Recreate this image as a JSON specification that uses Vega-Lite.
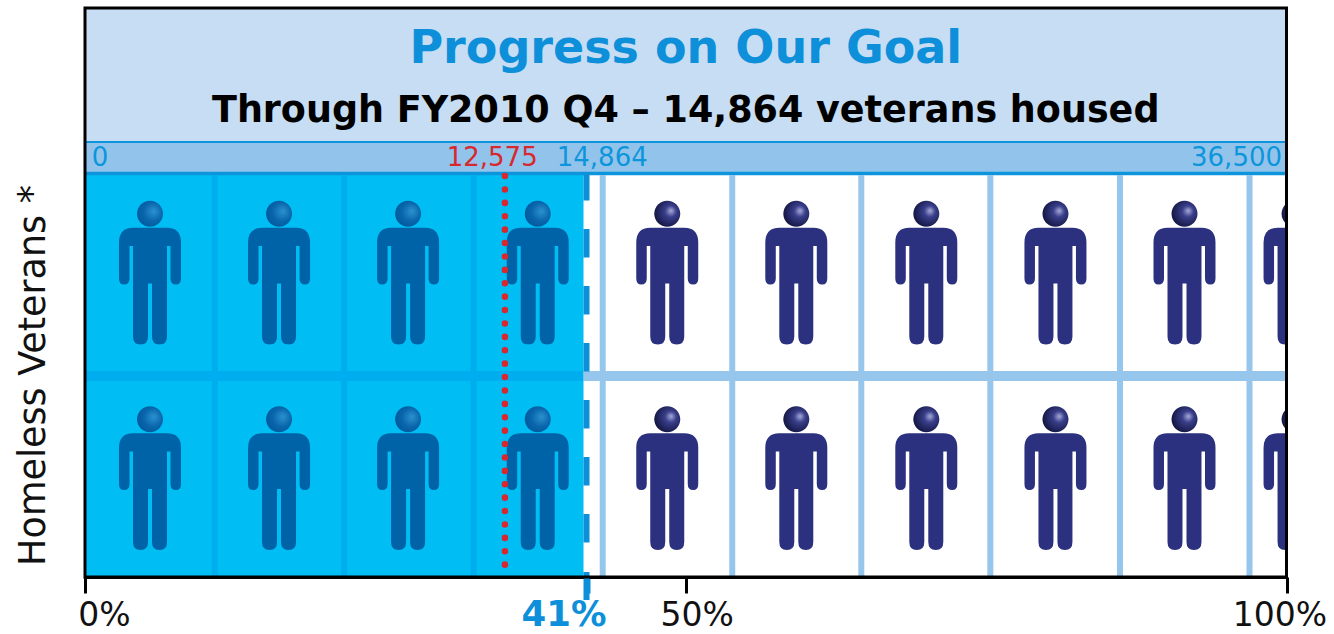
{
"$schema":"https://vega.github.io/schema/vega-lite/v6.json",
"width":1201.5,"height":569,
"autosize":{"type":"none"},
"padding":{"left":85,"top":8,"right":47.5,"bottom":57},
"background":"white",
"config":{"view":{"stroke":null},"font":"DejaVu Sans"},
"datasets":{
"bands":[
{"part":"header","x":0,"x2":100,"y":569,"y2":435},
{"part":"strip","x":0,"x2":100,"y":434,"y2":405},
{"part":"housed","x":0,"x2":41.49,"y":0,"y2":402}
],
"stripLines":[
{"part":"stripLine","x":0,"x2":100,"y":435,"w":"thin"},
{"part":"stripLine","x":0,"x2":100,"y":403.5,"w":"thick"}
],
"grid":[
{"part":"gridHoused","x":10.81},{"part":"gridHoused","x":21.57},{"part":"gridHoused","x":32.34},
{"part":"gridOpen","x":43.09},{"part":"gridOpen","x":53.87},{"part":"gridOpen","x":64.61},{"part":"gridOpen","x":75.35},{"part":"gridOpen","x":86.14},{"part":"gridOpen","x":96.92}
],
"rowLines":[
{"part":"gridHoused","x":0,"x2":41.49,"y":201},
{"part":"gridOpen","x":41.49,"x2":100,"y":201}
],
"people":[
{"part":"personHoused","x":5.41,"y":304.5},{"part":"personHoused","x":16.15,"y":304.5},{"part":"personHoused","x":26.89,"y":304.5},{"part":"personHoused","x":37.68,"y":304.5},
{"part":"personOpen","x":48.46,"y":304.5},{"part":"personOpen","x":59.2,"y":304.5},{"part":"personOpen","x":70.02,"y":304.5},{"part":"personOpen","x":80.77,"y":304.5},{"part":"personOpen","x":91.51,"y":304.5},{"part":"personOpen","x":100.67,"y":304.5},
{"part":"personHoused","x":5.41,"y":99},{"part":"personHoused","x":16.15,"y":99},{"part":"personHoused","x":26.89,"y":99},{"part":"personHoused","x":37.68,"y":99},
{"part":"personOpen","x":48.46,"y":99},{"part":"personOpen","x":59.2,"y":99},{"part":"personOpen","x":70.02,"y":99},{"part":"personOpen","x":80.77,"y":99},{"part":"personOpen","x":91.51,"y":99},{"part":"personOpen","x":100.67,"y":99}
],
"stripText":[
{"label":"0","part":"stripLine","x":1.25,"y":419.5},
{"label":"12,575","part":"target","x":33.89,"y":419.5},
{"label":"14,864","part":"stripLine","x":43.05,"y":419.5},
{"label":"36,500","part":"stripLine","x":95.84,"y":419.5}
]
},
"layer":[
{"data":{"name":"bands"},"mark":{"type":"rect"},
 "encoding":{
  "x":{"field":"x","type":"quantitative","scale":{"domain":[0,100],"nice":false,"zero":false},
   "axis":{"title":null,"values":[0,41.74,50,100],"grid":false,"domainColor":"black","domainWidth":3,
    "tickSize":16,"tickWidth":{"condition":{"test":"datum.value>41&&datum.value<42","value":6},"value":3},
    "tickColor":{"condition":{"test":"datum.value>41&&datum.value<42","value":"#0D8FD9"},"value":"black"},
    "labelExpr":"datum.value>41&&datum.value<42?'41%':datum.value+'%'",
    "labelFont":"DejaVu Sans","labelFontSize":{"condition":{"test":"datum.value>41&&datum.value<42","value":35.5},"value":33},
    "labelFontWeight":{"condition":{"test":"datum.value>41&&datum.value<42","value":"bold"},"value":"normal"},
    "labelColor":{"condition":{"test":"datum.value>41&&datum.value<42","value":"#0D8FD9"},"value":"#111111"},
    "labelOffset":{"condition":[{"test":"datum.value==0","value":19},{"test":"datum.value==50","value":11},{"test":"datum.value==100","value":-7}],"value":-23},
    "labelPadding":{"condition":{"test":"datum.value>41&&datum.value<42","value":4},"value":6.5},"labelOverlap":false,"labelBound":false,"labelFlush":false}},
  "x2":{"field":"x2"},
  "y":{"field":"y","type":"quantitative","scale":{"domain":[0,569],"nice":false,"zero":false},
   "axis":{"title":"Homeless Veterans *","titleFont":"DejaVu Sans","titleFontSize":36.5,"titleFontWeight":"normal","titleColor":"#111111","titleX":-41,"titleY":367,"titleAlign":"center","titleBaseline":"alphabetic","titleAngle":-90,"labels":false,"ticks":false,"domain":false,"grid":false}},
  "y2":{"field":"y2"},
  "color":{"field":"part","type":"nominal","legend":null,"scale":{
    "domain":["header","strip","housed","stripLine","gridHoused","gridOpen","personHoused","personOpen","target"],
    "range":["#C6DDF4","#92C4EB","#00BEF4","#0D95DC","#00AEEF","#96C6EC","#0063A8","#2B317F","#D8282F"]}}
 }},
{"data":{"name":"stripLines"},"transform":[{"filter":"datum.w=='thin'"}],"mark":{"type":"rule","strokeWidth":2},
 "encoding":{"x":{"field":"x","type":"quantitative"},"x2":{"field":"x2"},"y":{"field":"y","type":"quantitative"},"color":{"field":"part","type":"nominal","legend":null}}},
{"data":{"name":"stripLines"},"transform":[{"filter":"datum.w=='thick'"}],"mark":{"type":"rule","strokeWidth":3.5},
 "encoding":{"x":{"field":"x","type":"quantitative"},"x2":{"field":"x2"},"y":{"field":"y","type":"quantitative"},"color":{"field":"part","type":"nominal","legend":null}}},
{"data":{"name":"grid"},"mark":{"type":"rule","strokeWidth":6},
 "encoding":{"x":{"field":"x","type":"quantitative"},"y":{"datum":0,"type":"quantitative"},"y2":{"datum":402},"color":{"field":"part","type":"nominal","legend":null}}},
{"data":{"name":"rowLines"},"mark":{"type":"rule","strokeWidth":10},
 "encoding":{"x":{"field":"x","type":"quantitative"},"x2":{"field":"x2"},"y":{"field":"y","type":"quantitative"},"color":{"field":"part","type":"nominal","legend":null}}},
{"data":{"name":"people"},"mark":{"type":"point","filled":true,"opacity":1,"clip":true,"size":4,"strokeWidth":0,
  "shape":"M -17 -44.7 L 17 -44.7 Q 31 -44.7 31 -30 L 31 6 Q 31 12 26 12 Q 20.5 12 20.5 6 L 20.5 -26.5 L 17 -26.5 L 17 64 Q 17 72 9.5 72 Q 2 72 2 64 L 2 11 L -2 11 L -2 64 Q -2 72 -9.5 72 Q -17 72 -17 64 L -17 -26.5 L -20.5 -26.5 L -20.5 6 Q -20.5 12 -26 12 Q -31 12 -31 6 L -31 -30 Q -31 -44.7 -17 -44.7 Z"},
 "encoding":{"x":{"field":"x","type":"quantitative"},"y":{"field":"y","type":"quantitative"},"color":{"field":"part","type":"nominal","legend":null}}},
{"data":{"name":"people"},"transform":[{"filter":"datum.part=='personHoused'"}],
 "mark":{"type":"point","filled":true,"opacity":1,"clip":true,"size":4,"strokeWidth":0,
  "shape":"M -13 -58.7 A 13 13 0 1 1 13 -58.7 A 13 13 0 1 1 -13 -58.7 Z",
  "color":{"gradient":"radial","x1":0.65,"y1":0.4,"r1":0,"x2":0.6,"y2":0.45,"r2":0.6,"stops":[{"offset":0,"color":"#2B92CF"},{"offset":0.6,"color":"#0A66AC"},{"offset":1,"color":"#005A9E"}]}},
 "encoding":{"x":{"field":"x","type":"quantitative"},"y":{"field":"y","type":"quantitative"}}},
{"data":{"name":"people"},"transform":[{"filter":"datum.part=='personOpen'"}],
 "mark":{"type":"point","filled":true,"opacity":1,"clip":true,"size":4,"strokeWidth":0,
  "shape":"M -13 -58.7 A 13 13 0 1 1 13 -58.7 A 13 13 0 1 1 -13 -58.7 Z",
  "color":{"gradient":"radial","x1":0.65,"y1":0.38,"r1":0,"x2":0.6,"y2":0.45,"r2":0.62,"stops":[{"offset":0,"color":"#A9ACD8"},{"offset":0.35,"color":"#3A3F8C"},{"offset":1,"color":"#11143F"}]}},
 "encoding":{"x":{"field":"x","type":"quantitative"},"y":{"field":"y","type":"quantitative"}}},
{"data":{"values":[{"x":34.95,"y":401,"y2":2}]},"mark":{"type":"rule","color":"#D8282F","strokeWidth":6.5,"strokeCap":"round","strokeDash":[0.1,13.3]},
 "encoding":{"x":{"field":"x","type":"quantitative"},"y":{"field":"y","type":"quantitative"},"y2":{"field":"y2"}}},
{"data":{"values":[{"x":41.74,"y":405,"y2":34.5}]},"mark":{"type":"rule","color":"#0D8FD9","strokeWidth":6,"strokeDash":[28.5,28.5]},
 "encoding":{"x":{"field":"x","type":"quantitative"},"y":{"field":"y","type":"quantitative"},"y2":{"field":"y2"}}},
{"data":{"values":[{"x":41.74,"y":5,"y2":-23}]},"mark":{"type":"rule","color":"#0D8FD9","strokeWidth":6,"clip":false},
 "encoding":{"x":{"field":"x","type":"quantitative"},"y":{"field":"y","type":"quantitative"},"y2":{"field":"y2"}}},
{"data":{"name":"stripText"},"mark":{"type":"text","font":"DejaVu Sans","fontSize":26,"align":"center","baseline":"middle"},
 "encoding":{"x":{"field":"x","type":"quantitative"},"y":{"field":"y","type":"quantitative"},"text":{"field":"label"},"color":{"field":"part","type":"nominal","legend":null}}},
{"data":{"values":[{"label":"Progress on Our Goal","x":50,"y":528}]},"mark":{"type":"text","font":"DejaVu Sans","fontWeight":"bold","fontSize":46,"align":"center","baseline":"middle","color":"#0D8FD9"},
 "encoding":{"x":{"field":"x","type":"quantitative"},"y":{"field":"y","type":"quantitative"},"text":{"field":"label"}}},
{"data":{"values":[{"label":"Through FY2010 Q4 – 14,864 veterans housed","x":50,"y":466}]},"mark":{"type":"text","font":"DejaVu Sans","fontWeight":"bold","fontSize":36.5,"align":"center","baseline":"middle","color":"black"},
 "encoding":{"x":{"field":"x","type":"quantitative"},"y":{"field":"y","type":"quantitative"},"text":{"field":"label"}}},
{"data":{"values":[{"x":0,"x2":100,"y":0,"y2":569}]},"mark":{"type":"rect","filled":false,"stroke":"black","strokeWidth":3},
 "encoding":{"x":{"field":"x","type":"quantitative"},"x2":{"field":"x2"},"y":{"field":"y","type":"quantitative"},"y2":{"field":"y2"}}}
]
}
